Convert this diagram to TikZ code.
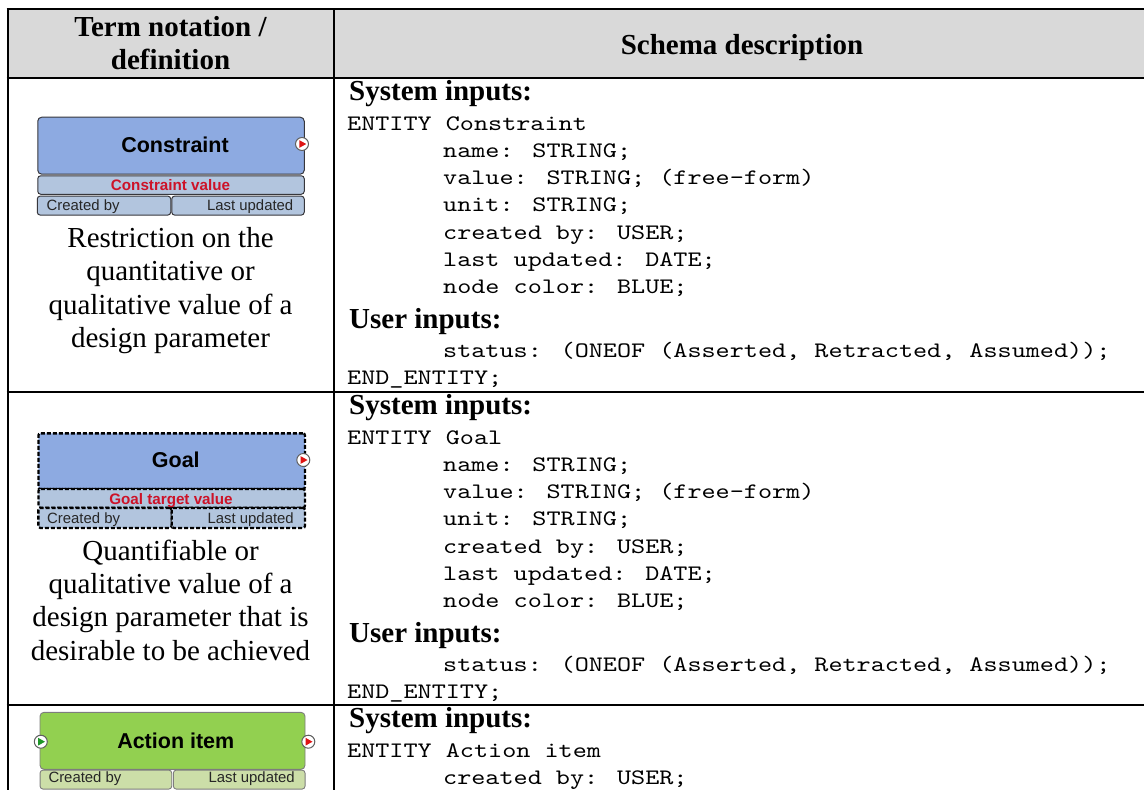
\documentclass[tikz,border=0pt]{standalone}
\usepackage{fontspec}
\setmainfont{Liberation Serif}
\setsansfont{Liberation Sans}
% light typewriter face, widened to a Courier-like advance
\newfontfamily\typewriter[FakeStretch=1.215]{lmmono10-regular.otf}

% fonts used in the table
\newcommand\hdfont{\rmfamily\bfseries\fontsize{29}{33}\selectfont}
\newcommand\deffont{\rmfamily\fontsize{29}{33}\selectfont}
\newcommand\codefont{\typewriter\fontsize{22.1}{27.3}\selectfont}
\newcommand\titlefont{\sffamily\bfseries\fontsize{21.5}{24}\selectfont}
\newcommand\valfont{\sffamily\bfseries\fontsize{15.2}{17}\selectfont}
\newcommand\barfont{\sffamily\fontsize{14.9}{17}\selectfont}

\definecolor{headgray}{RGB}{217,217,217}
\definecolor{nodeblue}{RGB}{141,170,225}
\definecolor{barblue}{RGB}{178,197,222}
\definecolor{nodegreen}{RGB}{146,208,80}
\definecolor{bargreen}{RGB}{204,222,168}
\definecolor{valred}{RGB}{205,18,40}
\definecolor{tipred}{RGB}{222,20,20}
\definecolor{tipgreen}{RGB}{30,150,40}
\definecolor{edgedark}{RGB}{55,55,60}
\definecolor{edgegray}{RGB}{125,125,125}

\begin{document}
\begin{tikzpicture}[x=1pt,y=-1pt,
  gridline/.style={line width=2pt,black},
  hd/.style={font=\hdfont,anchor=base,inner sep=0},
  sec/.style={font=\hdfont,anchor=base west,inner sep=0},
  code/.style={font=\codefont,anchor=base west,inner sep=0},
  deftext/.style={font=\deffont,anchor=base,inner sep=0},
  boxbase/.style={rectangle,inner sep=0,rounded corners=4pt},
  solidedge/.style={draw=edgedark,line width=1pt},
  greenedge/.style={draw=edgegray,line width=0.9pt},
  dashedge/.style={draw=black,line width=2.3pt,dash pattern=on 4pt off 2pt,rounded corners=2pt},
  title/.style={font=\titlefont,anchor=base,inner sep=0},
  valtext/.style={font=\valfont,text=valred,anchor=base,inner sep=0},
  barleft/.style={font=\barfont,text=black!85,anchor=base west,inner sep=0},
  barright/.style={font=\barfont,text=black!85,anchor=base east,inner sep=0},
  port/.style={circle,draw=gray!75!black,fill=white,line width=1pt,
    minimum size=13pt,inner sep=0,
    path picture={\fill[#1] ([xshift=-2.6pt,yshift=3.8pt]path picture bounding box.center)
      -- ++(6.8pt,-3.8pt) -- ++(-6.8pt,-3.8pt) -- cycle;}}
]
\useasboundingbox (0,0) rectangle (1144,790);

% ---------- table frame ----------
\fill[headgray] (7.5,9) rectangle (1152,77.5);
\draw[gridline] (6.5,9) -- (1152,9);
\draw[gridline] (6.5,77.5) -- (1152,77.5);
\draw[gridline] (6.5,391.7) -- (1152,391.7);
\draw[gridline] (6.5,705) -- (1152,705);
\draw[gridline] (7.5,8) -- (7.5,795);
\draw[gridline] (334,8) -- (334,795);

% ---------- header ----------
\node[hd] (h-term1) at (170.5,36) {Term notation /};
\node[hd] (h-term2) at (170.5,69.5) {definition};
\node[hd] (h-schema) at (742,54.3) {Schema description};

% ---------- schema text, rows 1 and 2 ----------
\foreach \r/\dy/\ent in {1/0/Constraint, 2/314/Goal} {
  \node[sec]  (r\r-sys)   at (349,{100+\dy})   {System inputs:};
  \node[code] (r\r-ent)   at (347,{130+\dy})   {ENTITY \ent};
  \node[code] (r\r-name)  at (443,{157.3+\dy}) {name: STRING;};
  \node[code] (r\r-value) at (443,{184.6+\dy}) {value: STRING; (free-form)};
  \node[code] (r\r-unit)  at (443,{211.9+\dy}) {unit: STRING;};
  \node[code] (r\r-cby)   at (443,{239.2+\dy}) {created by: USER;};
  \node[code] (r\r-lupd)  at (443,{266.5+\dy}) {last updated: DATE;};
  \node[code] (r\r-col)   at (443,{293.8+\dy}) {node color: BLUE;};
  \node[sec]  (r\r-usr)   at (349,{328+\dy})   {User inputs:};
  \node[code] (r\r-stat)  at (443,{357+\dy})   {status: (ONEOF (Asserted, Retracted, Assumed));};
  \node[code] (r\r-end)   at (347,{384+\dy})   {END\_ENTITY;};
}

% ---------- schema text, row 3 ----------
\node[sec]  (r3-sys) at (349,727)   {System inputs:};
\node[code] (r3-ent) at (347,757)   {ENTITY Action item};
\node[code] (r3-cby) at (443,784.3) {created by: USER;};

% ---------- definitions ----------
\node[deftext] (d1-a) at (170.5,247.6) {Restriction on the};
\node[deftext] (d1-b) at (170.5,280.9) {quantitative or};
\node[deftext] (d1-c) at (170.5,314.2) {qualitative value of a};
\node[deftext] (d1-d) at (170.5,347.5) {design parameter};

\node[deftext] (d2-a) at (170.5,560.3) {Quantifiable or};
\node[deftext] (d2-b) at (170.5,593.6) {qualitative value of a};
\node[deftext] (d2-c) at (170.5,626.9) {design parameter that is};
\node[deftext] (d2-d) at (170.5,660.2) {desirable to be achieved};

% ---------- Constraint notation ----------
\node[boxbase,solidedge,fill=nodeblue,minimum width=266.5pt,minimum height=57pt]
  (c-main) at (171,145.7) {};
\node[boxbase,solidedge,fill=barblue,rounded corners=3pt,minimum width=266.5pt,minimum height=18.5pt]
  (c-val) at (171,185) {};
\node[boxbase,solidedge,fill=barblue,rounded corners=3pt,minimum width=133.5pt,minimum height=19pt]
  (c-cby) at (104,205.6) {};
\node[boxbase,solidedge,fill=barblue,rounded corners=3pt,minimum width=132.5pt,minimum height=19pt]
  (c-upd) at (238,205.6) {};
\node[port=tipred] (c-out) at (302,144) {};
\node[title] (c-title) at (175,152.8) {Constraint};
\node[valtext] (c-valtxt) at (170.5,190.2) {Constraint value};
\node[barleft] (c-cbytxt) at (46.5,210.5) {Created by};
\node[barright] (c-updtxt) at (293.5,210.5) {Last updated};

% ---------- Goal notation ----------
\node[boxbase,dashedge,fill=nodeblue,minimum width=266.5pt,minimum height=55.7pt]
  (g-main) at (171.7,461.2) {};
\node[boxbase,dashedge,fill=barblue,minimum width=266.5pt,minimum height=18.7pt]
  (g-val) at (171.7,498.4) {};
\node[boxbase,dashedge,fill=barblue,minimum width=133.3pt,minimum height=20pt]
  (g-cby) at (105,517.9) {};
\node[boxbase,dashedge,fill=barblue,minimum width=133.3pt,minimum height=20pt]
  (g-upd) at (238.3,517.9) {};
\node[port=tipred] (g-out) at (303.3,460) {};
\node[title] (g-title) at (175.8,467) {Goal};
\node[valtext] (g-valtxt) at (171,504) {Goal target value};
\node[barleft] (g-cbytxt) at (47,523.5) {Created by};
\node[barright] (g-updtxt) at (294,523.5) {Last updated};

% ---------- Action item notation ----------
\node[boxbase,greenedge,fill=nodegreen,minimum width=265pt,minimum height=57pt]
  (a-main) at (172.5,740.8) {};
\node[boxbase,greenedge,fill=bargreen,rounded corners=3pt,minimum width=131.7pt,minimum height=19pt]
  (a-cby) at (105.9,779.6) {};
\node[boxbase,greenedge,fill=bargreen,rounded corners=3pt,minimum width=131.7pt,minimum height=19pt]
  (a-upd) at (239.2,779.6) {};
\node[port=tipgreen] (a-in) at (40.8,741.7) {};
\node[port=tipred] (a-out) at (308.3,741.7) {};
\node[title] (a-title) at (175.8,748.3) {Action item};
\node[barleft] (a-cbytxt) at (48.3,782.7) {Created by};
\node[barright] (a-updtxt) at (295,782.7) {Last updated};
\end{tikzpicture}
\end{document}
